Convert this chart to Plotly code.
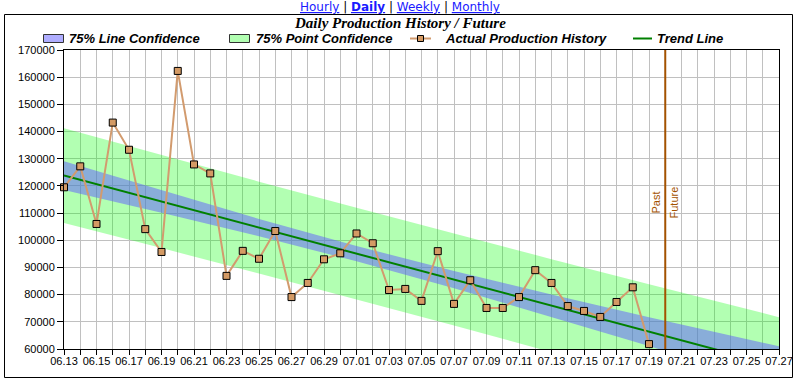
import plotly.graph_objects as go

YEAR = "2010"

# ---------------- data ----------------
hist_labels = ["06.13", "06.14", "06.15", "06.16", "06.17", "06.18", "06.19", "06.20",
               "06.21", "06.22", "06.23", "06.24", "06.25", "06.26", "06.27", "06.28",
               "06.29", "06.30", "07.01", "07.02", "07.03", "07.04", "07.05", "07.06",
               "07.07", "07.08", "07.09", "07.10", "07.11", "07.12", "07.13", "07.14",
               "07.15", "07.16", "07.17", "07.18", "07.19"]
production = [119500, 127200, 106000, 143300, 133300, 104100, 95700, 162300,
              127900, 124600, 86900, 96100, 93200, 103400, 79100, 84300,
              93000, 95200, 102500, 98900, 81700, 82100, 77700, 96000,
              76600, 85300, 75100, 75100, 79100, 89000, 84300, 75800,
              74000, 71800, 77300, 82700, 61800]

trend_labels = ["06.13", "07.27"]
trend_values = [123800, 53620]

band_labels = ["06.13", "06.19", "06.25", "07.01", "07.07", "07.13", "07.19", "07.27"]
line_conf_upper = [129100, 118330, 107840, 97890, 88700, 80050, 71680, 61000]
line_conf_lower = [118500, 110130, 101480, 92290, 82340, 71850, 61080, 46220]
point_conf_upper = [141240, 131340, 121570, 111940, 102430, 93060, 83820, 71720]
point_conf_lower = [106360, 97120, 87750, 78240, 68610, 58840, 48940, 35520]

x_start, x_end = "06.13", "07.27"
now_label = "07.20"

series_names = ["75% Line Confidence", "75% Point Confidence",
                "Actual Production History", "Trend Line"]
title_text = "Daily Production History / Future"
link_labels = ["Hourly", "Daily", "Weekly", "Monthly"]


def to_date(lbl):
    m, d = lbl.split(".")
    return f"{YEAR}-{m}-{d}"


hist_x = [to_date(s) for s in hist_labels]
trend_x = [to_date(s) for s in trend_labels]
band_x = [to_date(s) for s in band_labels]

# ---------------- geometry helpers ----------------
W, H = 799, 383
ML, MR, MT, MB = 64, 20, 50, 34
PW = W - ML - MR
PH = H - MT - MB


def px(xp):
    return (xp - ML) / PW


def py(yp):
    return (H - MB - yp) / PH


GREEN_FILL = "rgba(0,255,0,0.30)"
BLUE_FILL = "rgba(95,92,255,0.50)"
PROD_LINE = "#d29b6e"
PROD_MARK = "#d49a64"
TREND = "#008000"
BROWN = "#a35200"

fig = go.Figure()

fig.add_trace(go.Scatter(
    x=band_x + band_x[::-1], y=point_conf_upper + point_conf_lower[::-1],
    fill="toself", fillcolor=GREEN_FILL, line=dict(width=0), mode="lines",
    name=series_names[1], showlegend=False, hoverinfo="skip"))
fig.add_trace(go.Scatter(
    x=band_x + band_x[::-1], y=line_conf_upper + line_conf_lower[::-1],
    fill="toself", fillcolor=BLUE_FILL, line=dict(width=0), mode="lines",
    name=series_names[0], showlegend=False, hoverinfo="skip"))
fig.add_trace(go.Scatter(
    x=trend_x, y=trend_values, mode="lines", line=dict(color=TREND, width=2),
    name=series_names[3], showlegend=False))
fig.add_trace(go.Scatter(
    x=hist_x, y=production, mode="lines+markers",
    line=dict(color=PROD_LINE, width=2),
    marker=dict(symbol="square", size=7, color=PROD_MARK,
                line=dict(color="black", width=1)),
    cliponaxis=False, name=series_names[2], showlegend=False))

shapes = []
annotations = []

# Past / Future divider
shapes.append(dict(type="line", xref="x", yref="paper", x0=to_date(now_label),
                   x1=to_date(now_label), y0=0, y1=1,
                   line=dict(color=BROWN, width=2)))
annotations.append(dict(x=to_date(now_label), y=114000, xref="x", yref="y",
                        text="Past", textangle=-90, showarrow=False,
                        xanchor="right", yanchor="middle", xshift=-1,
                        font=dict(family="Liberation Sans", size=11, color=BROWN)))
annotations.append(dict(x=to_date(now_label), y=114000, xref="x", yref="y",
                        text="Future", textangle=-90, showarrow=False,
                        xanchor="left", yanchor="middle", xshift=1,
                        font=dict(family="Liberation Sans", size=11, color=BROWN)))

# outer frame
shapes.append(dict(type="rect", xref="paper", yref="paper",
                   x0=px(4.5), x1=px(792.5), y0=py(377.5), y1=py(14.5),
                   line=dict(color="black", width=1), fillcolor="rgba(0,0,0,0)",
                   layer="above"))

# manual legend
LEG_Y = 38.5
lfont = dict(family="Liberation Sans", size=13, color="black")
shapes.append(dict(type="rect", xref="paper", yref="paper", x0=px(43.5), x1=px(63.5),
                   y0=py(42.5), y1=py(34.5), fillcolor=BLUE_FILL,
                   line=dict(color="#333333", width=1)))
annotations.append(dict(x=px(67), y=py(LEG_Y), xref="paper", yref="paper",
                        text=f"<b><i>{series_names[0]}</i></b>", showarrow=False,
                        xanchor="left", yanchor="middle", font=lfont))
shapes.append(dict(type="rect", xref="paper", yref="paper", x0=px(229.5), x1=px(249.5),
                   y0=py(42.5), y1=py(34.5), fillcolor=GREEN_FILL,
                   line=dict(color="#333333", width=1)))
annotations.append(dict(x=px(254), y=py(LEG_Y), xref="paper", yref="paper",
                        text=f"<b><i>{series_names[1]}</i></b>", showarrow=False,
                        xanchor="left", yanchor="middle", font=lfont))
shapes.append(dict(type="line", xref="paper", yref="paper", x0=px(410), x1=px(431),
                   y0=py(LEG_Y), y1=py(LEG_Y), line=dict(color=PROD_LINE, width=2)))
shapes.append(dict(type="rect", xref="paper", yref="paper", x0=px(417.5), x1=px(423.5),
                   y0=py(LEG_Y + 3), y1=py(LEG_Y - 3), fillcolor=PROD_MARK,
                   line=dict(color="black", width=1)))
annotations.append(dict(x=px(443), y=py(LEG_Y), xref="paper", yref="paper",
                        text=f"<b><i>{series_names[2]}</i></b>", showarrow=False,
                        xanchor="left", yanchor="middle", font=lfont))
shapes.append(dict(type="line", xref="paper", yref="paper", x0=px(633), x1=px(652),
                   y0=py(LEG_Y), y1=py(LEG_Y), line=dict(color=TREND, width=2)))
annotations.append(dict(x=px(655), y=py(LEG_Y), xref="paper", yref="paper",
                        text=f"<b><i>{series_names[3]}</i></b>", showarrow=False,
                        xanchor="left", yanchor="middle", font=lfont))

# title
annotations.append(dict(x=px(400), y=py(23.5), xref="paper", yref="paper",
                        text=f"<b><i>{title_text}</i></b>", showarrow=False,
                        xanchor="center", yanchor="middle",
                        font=dict(family="Liberation Serif", size=15, color="black")))

# links row
link_style = "color:#1a1aff;text-decoration:underline"
parts = []
for i, lbl in enumerate(link_labels):
    t = f"<b>{lbl}</b>" if lbl == "Daily" else lbl
    parts.append(f"<span style='{link_style}'>{t}</span>")
links_text = " | ".join(parts)
annotations.append(dict(x=px(399.5), y=py(7.5), xref="paper", yref="paper",
                        text=links_text, showarrow=False, xanchor="center",
                        yanchor="middle",
                        font=dict(family="DejaVu Sans", size=12, color="black")))

tickfont = dict(family="Liberation Sans", size=11, color="black")
fig.update_layout(
    width=W, height=H,
    margin=dict(l=ML, r=MR, t=MT, b=MB, pad=0, autoexpand=False),
    paper_bgcolor="white", plot_bgcolor="white",
    showlegend=False,
    shapes=shapes, annotations=annotations,
    xaxis=dict(type="date", range=[to_date(x_start), to_date(x_end)],
               tick0=to_date(x_start), dtick=2 * 86400000, tickformat="%m.%d",
               ticks="outside", ticklen=5, tickcolor="black", tickfont=tickfont,
               ticklabelstandoff=-3,
               showline=True, linecolor="black", linewidth=1, mirror=True,
               showgrid=True, gridcolor="#c0c0c0", gridwidth=1, zeroline=False,
               automargin=False,
               minor=dict(tick0=to_date(x_start), dtick=86400000, ticks="outside",
                          ticklen=5, tickcolor="black", showgrid=True,
                          gridcolor="#c0c0c0", gridwidth=1)),
    yaxis=dict(range=[60000, 170000], dtick=10000, tick0=60000, tickformat="d",
               ticks="outside", ticklen=6, tickcolor="black", tickfont=tickfont,
               showline=True, linecolor="black", linewidth=1, mirror=True,
               automargin=False,
               showgrid=True, gridcolor="#c0c0c0", gridwidth=1, zeroline=False),
)

fig.write_html("out.html", config={"displayModeBar": False},
               post_script="document.body.style.margin='0';document.body.style.overflow='hidden';")
